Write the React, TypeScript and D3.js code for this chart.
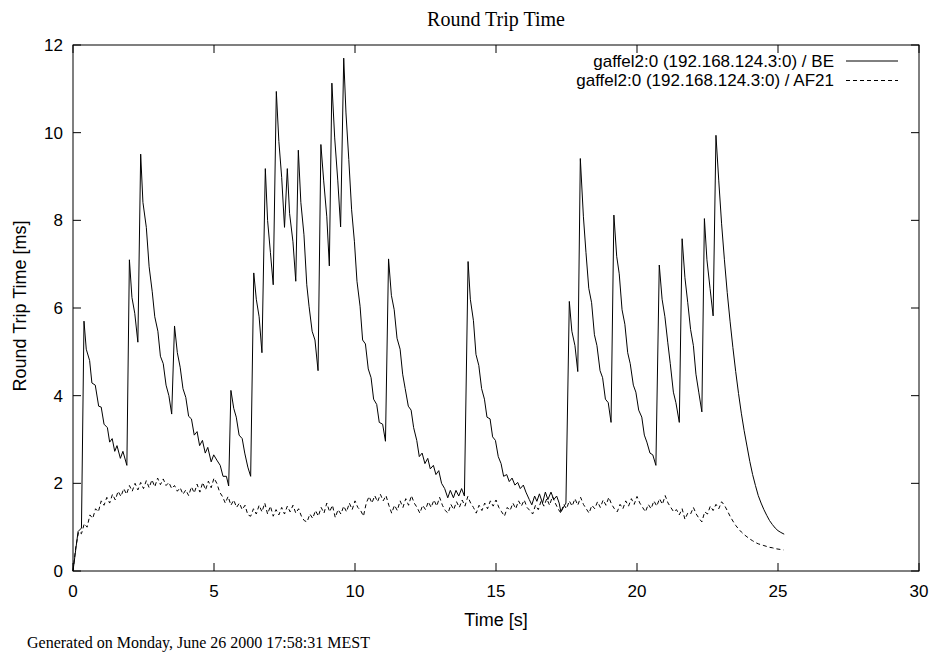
import React from "react";
import * as d3 from "d3";

// Round trip time samples, best-effort class: [time s, rtt ms]
const beTimes: number[] = [
  0, 0.18, 0.3, 0.39, 0.47, 0.59, 0.67, 0.79, 0.91, 1.0, 1.1, 1.22, 1.3, 1.39, 1.48, 1.56, 1.68, 1.77, 1.91,
  2.0, 2.09, 2.19, 2.3, 2.4, 2.48, 2.6, 2.7, 2.81, 2.9, 3.01, 3.1, 3.2, 3.3, 3.4, 3.5, 3.6, 3.7, 3.8, 3.9,
  4.0, 4.1, 4.2, 4.3, 4.4, 4.49, 4.59, 4.69, 4.78, 4.9, 4.99, 5.1, 5.22, 5.32, 5.44, 5.52, 5.6, 5.7, 5.79,
  5.89, 6.0, 6.09, 6.2, 6.3, 6.41, 6.5, 6.6, 6.7, 6.82, 6.9, 7.0, 7.1, 7.21, 7.3, 7.4, 7.5, 7.6, 7.68, 7.8,
  7.9, 7.99, 8.08, 8.19, 8.29, 8.37, 8.48, 8.58, 8.69, 8.79, 8.89, 9.0, 9.09, 9.18, 9.28, 9.39, 9.49, 9.6,
  9.68, 9.78, 9.88, 9.98, 10.07, 10.18, 10.27, 10.37, 10.47, 10.57, 10.66, 10.77, 10.86, 10.98, 11.08,
  11.19, 11.29, 11.39, 11.49, 11.6, 11.69, 11.78, 11.89, 11.99, 12.08, 12.19, 12.28, 12.38, 12.48, 12.58,
  12.67, 12.78, 12.87, 12.97, 13.07, 13.18, 13.29, 13.38, 13.49, 13.58, 13.68, 13.78, 13.88, 14.01, 14.09,
  14.2, 14.29, 14.39, 14.49, 14.59, 14.68, 14.79, 14.88, 14.98, 15.08, 15.18, 15.27, 15.38, 15.47, 15.57,
  15.67, 15.77, 15.86, 15.97, 16.06, 16.18, 16.27, 16.37, 16.45, 16.54, 16.65, 16.75, 16.84, 16.95, 17.05,
  17.15, 17.24, 17.3, 17.48, 17.6, 17.69, 17.8, 17.9, 17.99, 18.1, 18.19, 18.29, 18.39, 18.49, 18.58,
  18.69, 18.78, 18.88, 18.98, 19.08, 19.18, 19.28, 19.37, 19.47, 19.57, 19.67, 19.76, 19.87, 19.96, 20.06,
  20.17, 20.26, 20.35, 20.46, 20.56, 20.67, 20.79, 20.89, 20.99, 21.09, 21.18, 21.29, 21.38, 21.5, 21.6,
  21.7, 21.8, 21.9, 22.0, 22.09, 22.19, 22.3, 22.39, 22.48, 22.59, 22.7, 22.8, 22.9, 23.0, 23.1, 23.2,
  23.3, 23.4, 23.5, 23.6, 23.7, 23.8, 23.9, 24.0, 24.1, 24.2, 24.3, 24.4, 24.5, 24.6, 24.7, 24.8, 24.9,
  25.0, 25.1, 25.22,
];
const beValues: number[] = [
  0, 0.9, 0.98, 5.7, 5.06, 4.8, 4.29, 4.24, 3.76, 3.74, 3.35, 3.27, 2.94, 3.02, 2.73, 2.86, 2.57, 2.73, 2.41,
  7.1, 6.24, 5.88, 5.22, 9.51, 8.41, 7.84, 6.94, 6.37, 5.8, 5.47, 4.9, 4.73, 4.24, 4.0, 3.58, 5.59, 4.98, 4.65, 4.16,
  3.96, 3.53, 3.47, 3.1, 3.18, 2.86, 2.98, 2.69, 2.82, 2.49, 2.65, 2.53, 2.41, 2.16, 2.16, 1.94, 4.12, 3.71, 3.51,
  3.1, 3.02, 2.69, 2.37, 2.16, 6.8, 6.2, 5.8, 4.98, 9.18, 8.0, 7.27, 6.53, 10.94, 9.8, 8.98, 7.84, 9.18, 8.16, 7.51,
  6.61, 9.6, 8.41, 7.67, 6.53, 6.04, 5.47, 5.27, 4.57, 9.73, 8.9, 8.08, 6.96, 11.13, 9.88, 8.9, 7.85, 11.7,
  10.45, 9.39, 8.24, 7.51, 6.61, 6.04, 5.27, 5.18, 4.61, 4.41, 3.92, 3.8, 3.39, 3.35, 2.96,
  7.12, 6.29, 5.96, 5.31, 5.06, 4.49, 4.16, 3.76, 3.67, 3.27, 2.98, 2.61, 2.69, 2.45, 2.57,
  2.33, 2.41, 2.2, 2.29, 2.0, 1.88, 1.67, 1.84, 1.67, 1.84, 1.71, 1.88, 1.71, 7.06, 6.2,
  5.71, 4.94, 4.69, 4.16, 3.92, 3.51, 3.47, 3.06, 2.98, 2.61, 2.45, 2.16, 2.2, 2.04, 2.12,
  1.96, 2.02, 1.88, 1.96, 1.8, 1.63, 1.51, 1.71, 1.59, 1.76, 1.55, 1.8, 1.63, 1.8, 1.63,
  1.71, 1.55, 1.35, 1.55, 6.15, 5.47, 5.14, 4.55, 9.41, 8.08, 7.27, 6.45, 6.12, 5.39, 5.14,
  4.57, 4.41, 3.92, 3.84, 3.39, 8.12, 7.18, 6.78, 5.96, 5.63, 4.98, 4.73, 4.24, 4.08, 3.67,
  3.51, 3.1, 2.94, 2.69, 2.65, 2.41, 6.98, 6.2, 5.8, 5.22, 4.73, 4.08, 3.84, 3.39, 7.58,
  6.69, 6.12, 5.51, 5.14, 4.49, 4.08, 3.63, 8.04, 7.1, 6.45, 5.82, 9.94, 8.9, 7.92, 7.1, 6.35,
  5.7, 5.1, 4.55, 4.05, 3.6, 3.2, 2.85, 2.5, 2.2, 1.95, 1.72, 1.55, 1.4, 1.27, 1.15, 1.06, 0.98,
  0.92, 0.88, 0.84,
];

// Assured-forwarding class, sampled every 0.1 s starting at t = 0
const af21Step = 0.1;
const af21Values: number[] = [
  0, 0.55, 0.9, 0.85, 1.08, 1.0, 1.28, 1.2, 1.42, 1.35,
  1.6, 1.5, 1.68, 1.55, 1.75, 1.62, 1.82, 1.7, 1.88, 1.75,
  1.95, 1.82, 2.0, 1.85, 2.02, 1.88, 2.06, 1.9, 2.08, 1.92,
  2.12, 1.97, 2.1, 1.95, 2.02, 1.88, 1.95, 1.82, 1.9, 1.75,
  1.85, 1.72, 1.92, 1.78, 1.98, 1.8, 2.02, 1.85, 2.05, 1.9,
  2.12, 2.0, 1.8, 1.7, 1.55, 1.7, 1.5, 1.62, 1.45, 1.55,
  1.4, 1.5, 1.28, 1.25, 1.42, 1.3, 1.5, 1.35, 1.55, 1.3,
  1.48, 1.25, 1.4, 1.28, 1.45, 1.3, 1.48, 1.35, 1.5, 1.32,
  1.42, 1.25, 1.15, 1.12, 1.3, 1.2, 1.38, 1.25, 1.45, 1.32,
  1.55, 1.35, 1.5, 1.22, 1.4, 1.3, 1.48, 1.35, 1.55, 1.4,
  1.6, 1.45, 1.38, 1.25, 1.55, 1.7, 1.55, 1.72, 1.58, 1.75,
  1.6, 1.72, 1.5, 1.32, 1.5, 1.38, 1.6, 1.45, 1.65, 1.5,
  1.72, 1.55, 1.45, 1.32, 1.5, 1.4, 1.58, 1.45, 1.62, 1.48,
  1.68, 1.5, 1.38, 1.32, 1.52, 1.4, 1.58, 1.45, 1.62, 1.48,
  1.7, 1.55, 1.45, 1.32, 1.5, 1.38, 1.55, 1.42, 1.6, 1.48,
  1.62, 1.45, 1.35, 1.25, 1.45, 1.38, 1.55, 1.42, 1.6, 1.48,
  1.62, 1.45, 1.38, 1.3, 1.5, 1.4, 1.6, 1.48, 1.65, 1.5,
  1.7, 1.55, 1.42, 1.32, 1.52, 1.42, 1.6, 1.48, 1.65, 1.5,
  1.68, 1.52, 1.42, 1.32, 1.5, 1.42, 1.58, 1.45, 1.62, 1.5,
  1.68, 1.52, 1.42, 1.35, 1.52, 1.42, 1.6, 1.48, 1.65, 1.52,
  1.7, 1.55, 1.45, 1.35, 1.52, 1.42, 1.6, 1.48, 1.65, 1.52,
  1.72, 1.55, 1.45, 1.35, 1.4, 1.28, 1.42, 1.18, 1.32, 1.3,
  1.45, 1.3, 1.2, 1.12, 1.35, 1.3, 1.48, 1.38, 1.52, 1.42,
  1.58, 1.5, 1.38, 1.25, 1.14, 1.04, 0.96, 0.89, 0.83, 0.78,
  0.73, 0.69, 0.65, 0.62, 0.6, 0.58, 0.56, 0.54, 0.53, 0.51,
  0.5, 0.49, 0.48,
];

const xTicks: number[] = [0, 5, 10, 15, 20, 25, 30];
const yTicks: number[] = [0, 2, 4, 6, 8, 10, 12];

const seriesNames: string[] = [
  "gaffel2:0 (192.168.124.3:0) / BE",
  "gaffel2:0 (192.168.124.3:0) / AF21",
];

const W = 932;
const H = 658;
const left = 73;
const right = 919;
const top = 45;
const bottom = 571;
const sans = "'Liberation Sans', Arial, Helvetica, sans-serif";
const serif = "'Liberation Serif', 'Times New Roman', serif";

export default function App() {
  const x = d3.scaleLinear().domain([0, 30]).range([left, right]);
  const y = d3.scaleLinear().domain([0, 12]).range([bottom, top]);

  const line = d3
    .line<[number, number]>()
    .x((d) => x(d[0]))
    .y((d) => y(d[1]));

  const bePts: [number, number][] = beTimes.map((t, i) => [t, beValues[i]]);
  const afPts: [number, number][] = af21Values.map((v, i) => [i * af21Step, v]);

  const tickLen = 8;
  const cx = (left + right) / 2;
  const legendGap = 19.5;

  return (
    <svg
      width={W}
      height={H}
      style={{ position: "absolute", left: 0, top: 0, background: "#fff" }}
    >
      <rect x={0} y={0} width={W} height={H} fill="#fff" />
      <text x={cx} y={26} textAnchor="middle" fontFamily={serif} fontSize={20} fill="#000">
        Round Trip Time
      </text>

      {/* frame */}
      <rect
        x={left}
        y={top}
        width={right - left}
        height={bottom - top}
        fill="none"
        stroke="#000"
        strokeWidth={1}
      />

      {/* x ticks, mirrored on top */}
      {xTicks.map((t) => (
        <g key={"x" + t}>
          <line x1={x(t)} x2={x(t)} y1={bottom} y2={bottom - tickLen} stroke="#000" />
          <line x1={x(t)} x2={x(t)} y1={top} y2={top + tickLen} stroke="#000" />
          <text
            x={x(t)}
            y={bottom + 26}
            textAnchor="middle"
            fontFamily={sans}
            fontSize={17}
            fill="#000"
          >
            {t}
          </text>
        </g>
      ))}

      {/* y ticks, mirrored on right */}
      {yTicks.map((t) => (
        <g key={"y" + t}>
          <line x1={left} x2={left + tickLen} y1={y(t)} y2={y(t)} stroke="#000" />
          <line x1={right} x2={right - tickLen} y1={y(t)} y2={y(t)} stroke="#000" />
          <text
            x={left - 10}
            y={y(t) + 6}
            textAnchor="end"
            fontFamily={sans}
            fontSize={17}
            fill="#000"
          >
            {t}
          </text>
        </g>
      ))}

      <text
        transform={`translate(26, ${(top + bottom) / 2 - 2}) rotate(-90)`}
        textAnchor="middle"
        fontFamily={sans}
        fontSize={18}
        fill="#000"
      >
        Round Trip Time [ms]
      </text>
      <text x={cx} y={626} textAnchor="middle" fontFamily={sans} fontSize={18} fill="#000">
        Time [s]
      </text>

      {/* series */}
      <path d={line(bePts) ?? ""} fill="none" stroke="#000" strokeWidth={1} />
      <path
        d={line(afPts) ?? ""}
        fill="none"
        stroke="#000"
        strokeWidth={1}
        strokeDasharray="4,3"
      />

      {/* legend */}
      {seriesNames.map((name, i) => (
        <g key={name}>
          <text
            x={834}
            y={66.5 + i * legendGap}
            textAnchor="end"
            fontFamily={sans}
            fontSize={17}
            fill="#000"
          >
            {name}
          </text>
          <line
            x1={846}
            x2={898}
            y1={61 + i * legendGap}
            y2={61 + i * legendGap}
            stroke="#000"
            strokeWidth={1}
            strokeDasharray={i === 1 ? "4,3" : undefined}
          />
        </g>
      ))}

      <text x={27} y={648} fontFamily={serif} fontSize={16} fill="#000">
        Generated on Monday, June 26 2000 17:58:31 MEST
      </text>
    </svg>
  );
}
